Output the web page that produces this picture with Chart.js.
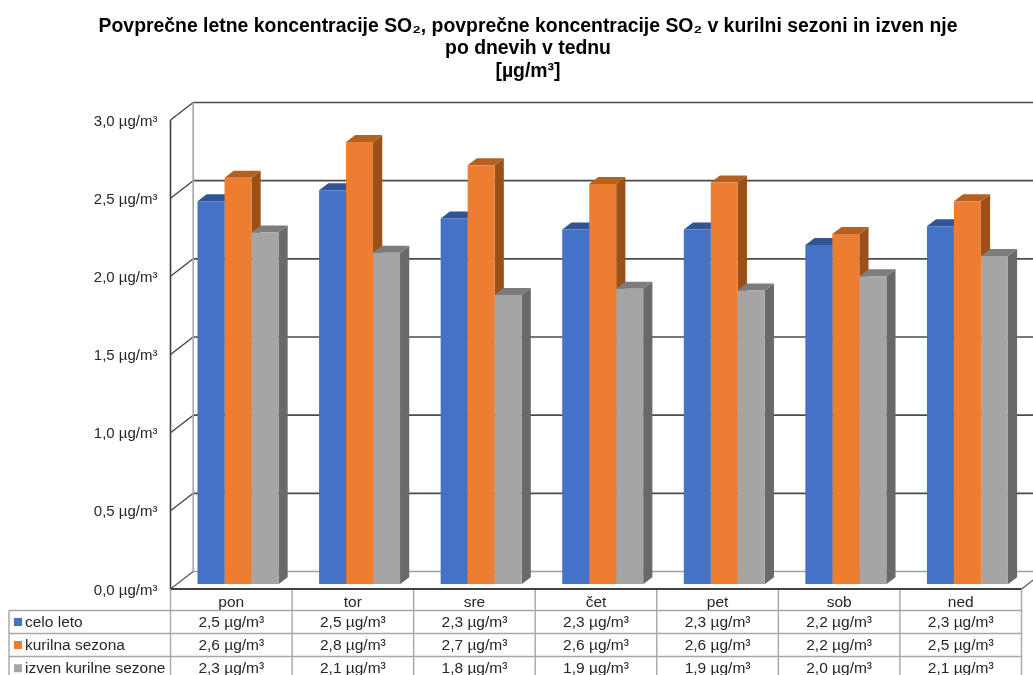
<!DOCTYPE html>
<html><head><meta charset="utf-8">
<style>html,body{margin:0;padding:0;background:#fff}canvas{display:block}</style>
<script src="https://cdn.jsdelivr.net/npm/chart.js@4"></script>
</head><body><canvas id="c" width="1033" height="675"></canvas>
<script>
const titleLines = ["Povprečne letne koncentracije SO₂, povprečne koncentracije SO₂ v kurilni sezoni in izven nje","po dnevih v tednu","[µg/m³]"];
const categories = ["pon","tor","sre","čet","pet","sob","ned"];
const seriesNames = ["celo leto","kurilna sezona","izven kurilne sezone"];
const celoLeto = [2.45,2.52,2.34,2.27,2.27,2.17,2.29];
const kurilnaSezona = [2.60,2.83,2.68,2.56,2.57,2.24,2.45];
const izvenSezone = [2.25,2.12,1.85,1.89,1.88,1.97,2.10];
const tableCelo = ["2,5","2,5","2,3","2,3","2,3","2,2","2,3"];
const tableKurilna = ["2,6","2,8","2,7","2,6","2,6","2,2","2,5"];
const tableIzven = ["2,3","2,1","1,8","1,9","1,9","2,0","2,1"];
const unit = " µg/m³";
const FONT = '"Liberation Sans", Arial, sans-serif';
const frontColors = ["#4472C4","#ED7D31","#A5A5A5"];
const topColors = ["#2F5597","#B5601F","#7C7C7C"];
const sideColors = ["#2F5597","#9C5019","#696969"];
const BACK = {dx:22.7, dy:-17.5};
const BAR = {tx:6.7, ty:-4.7, dx:9.2, dy:-7};

function poly(ctx, pts, fill){
  ctx.beginPath();
  pts.forEach((p,i)=> i?ctx.lineTo(p[0],p[1]):ctx.moveTo(p[0],p[1]));
  ctx.closePath(); ctx.fillStyle=fill; ctx.fill();
}
function line(ctx,x1,y1,x2,y2,color,w){
  ctx.beginPath();ctx.moveTo(x1,y1);ctx.lineTo(x2,y2);ctx.strokeStyle=color;ctx.lineWidth=w;ctx.stroke();
}
const walls3d = {
  id:'walls3d',
  beforeDatasetsDraw(chart){
    const {ctx,chartArea:a,scales:{y}} = chart;
    ctx.save();
    y.ticks.forEach(t=>{
      const py = y.getPixelForValue(t.value);
      const isZero = t.value===0;
      line(ctx,a.left,py,a.left+BACK.dx,py+BACK.dy,isZero?'#595959':'#404040',1.3);
      line(ctx,a.left+BACK.dx,py+BACK.dy,a.right+BACK.dx,py+BACK.dy,isZero?'#a0a0a0':'#4a4a4a',1.6);
    });
    line(ctx,a.left+BACK.dx,a.top+BACK.dy,a.left+BACK.dx,a.bottom+BACK.dy,'#a6a6a6',1.6);
    line(ctx,a.right,a.bottom,a.right+BACK.dx,a.bottom+BACK.dy,'#595959',1.2);
    line(ctx,a.left,a.top,a.left,a.bottom,'#404040',1.6);
    line(ctx,a.left,a.bottom,a.right,a.bottom,'#404040',2);
    ctx.translate(BAR.tx,BAR.ty);
    chart.data.datasets.forEach((ds,i)=>{
      chart.getDatasetMeta(i).data.forEach(el=>{
        const l=el.x-el.width/2,r=el.x+el.width/2,t=el.y,b=el.base;
        poly(ctx,[[r,t],[r+BAR.dx,t+BAR.dy],[r+BAR.dx,b+BAR.dy],[r,b]],sideColors[i]);
        poly(ctx,[[l,t],[l+BAR.dx,t+BAR.dy],[r+BAR.dx,t+BAR.dy],[r,t]],topColors[i]);
      });
    });
  },
  afterDatasetsDraw(chart){ chart.ctx.restore(); }
};
const dataTable = {
  id:'dataTable',
  afterDraw(chart){
    const {ctx,chartArea:a,scales:{x}} = chart;
    const rowsY=[610.5,633.5,656.5,680];
    const tableLeft=9;
    const grid='#a6a6a6';
    ctx.save();
    const catW=(a.right-a.left)/categories.length;
    for(let i=0;i<=categories.length;i++){
      const px=a.left+i*catW;
      line(ctx,px,a.bottom+1,px,675,grid,1.4);
    }
    rowsY.slice(0,3).forEach(py=>line(ctx,tableLeft,py,a.right,py,grid,1.4));
    line(ctx,tableLeft,rowsY[0],tableLeft,675,grid,1.4);
    ctx.font='15.5px '+FONT; ctx.textBaseline='middle';
    const rows=[tableCelo,tableKurilna,tableIzven];
    rows.forEach((row,r)=>{
      const cy=(rowsY[r]+rowsY[r+1])/2+0.5;
      ctx.fillStyle=frontColors[r];
      ctx.fillRect(14,cy-4.5,8,8);
      ctx.fillStyle='#262626'; ctx.textAlign='left';
      ctx.fillText(seriesNames[r],25,cy);
      ctx.textAlign='center';
      row.forEach((v,i)=>ctx.fillText(v+unit,x.getPixelForTick(i),cy));
    });
    ctx.restore();
  }
};
new Chart(document.getElementById('c'),{
  type:'bar',
  data:{labels:categories,datasets:[
    {label:seriesNames[0],data:celoLeto,backgroundColor:frontColors[0],categoryPercentage:0.666,barPercentage:1},
    {label:seriesNames[1],data:kurilnaSezona,backgroundColor:frontColors[1],categoryPercentage:0.666,barPercentage:1},
    {label:seriesNames[2],data:izvenSezone,backgroundColor:frontColors[2],categoryPercentage:0.666,barPercentage:1}
  ]},
  options:{
    responsive:false,animation:false,devicePixelRatio:1,
    layout:{padding:{left:34.5,right:11.5,top:0,bottom:0}},
    plugins:{
      legend:{display:false},tooltip:{enabled:false},
      title:{display:true,text:titleLines,color:'#000',align:'center',
        font:{family:FONT,size:19.4,weight:'bold',lineHeight:1.15},
        padding:{top:15.5,bottom:120-15.5-3*19.4*1.15}}
    },
    scales:{
      x:{grid:{display:false},border:{display:false},
        ticks:{color:'#262626',font:{family:FONT,size:15.5},padding:-3.5,maxRotation:0,autoSkip:false},
        afterFit(s){s.height=86;}},
      y:{min:0,max:3,grid:{display:false},border:{display:false},
        ticks:{stepSize:0.5,color:'#262626',font:{family:FONT,size:15},padding:5,labelOffset:1.5,
          callback:v=>v.toFixed(1).replace('.',',')+unit},
        afterFit(s){s.width=136;}}
    }
  },
  plugins:[walls3d,dataTable]
});
</script></body></html>
